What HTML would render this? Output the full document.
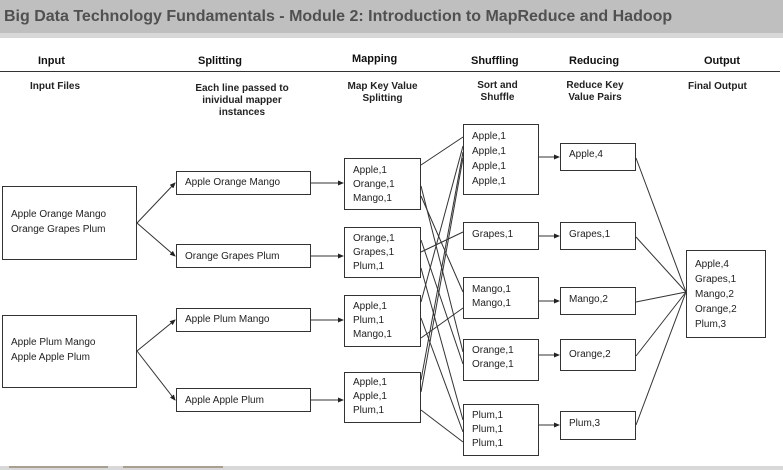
<!DOCTYPE html>
<html><head><meta charset="utf-8"><style>
body{margin:0;width:783px;height:470px;overflow:hidden;background:#fff;font-family:"Liberation Sans",sans-serif;position:relative}
.hb{position:absolute;left:0;top:0;width:783px;height:33px;background:#bfbfbf}
.hb2{position:absolute;left:0;top:33px;width:783px;height:5px;background:#d8d8d8}
.title{position:absolute;left:4px;top:8px;font-size:16px;font-weight:bold;color:#505050;white-space:nowrap}
.h{position:absolute;font-size:11px;font-weight:bold;color:#111;text-align:center;white-space:nowrap}
.s{position:absolute;font-size:10px;font-weight:bold;color:#222;text-align:center;line-height:12px}
.b{position:absolute;border:1px solid #333;box-sizing:border-box;font-size:10px;color:#222;line-height:14px;padding-left:8px;white-space:nowrap}
</style></head><body>
<div class="hb"></div><div class="hb2"></div>
<div class="title">Big Data Technology Fundamentals - Module 2: Introduction to MapReduce and Hadoop</div>
<div class="h" style="left:38px;top:55px">Input</div>
<div class="h" style="left:198px;top:55px">Splitting</div>
<div class="h" style="left:352px;top:53px">Mapping</div>
<div class="h" style="left:471px;top:55px">Shuffling</div>
<div class="h" style="left:569px;top:55px">Reducing</div>
<div class="h" style="left:704px;top:55px">Output</div>
<div style="position:absolute;left:0;top:71px;width:780px;height:1px;background:#333"></div>
<div class="s" style="left:30px;top:81px">Input Files</div>
<div class="s" style="left:172px;top:83px;width:140px">Each line passed to<br>inividual mapper<br>instances</div>
<div class="s" style="left:330px;top:81px;width:105px">Map Key Value<br>Splitting</div>
<div class="s" style="left:460px;top:80px;width:75px">Sort and<br>Shuffle</div>
<div class="s" style="left:555px;top:80px;width:80px">Reduce Key<br>Value Pairs</div>
<div class="s" style="left:688px;top:81px">Final Output</div>

<svg style="position:absolute;left:0;top:0" width="783" height="470">
<defs><marker id="a" markerWidth="6" markerHeight="6" refX="5" refY="3" orient="auto"><path d="M0,0.5L6,3L0,5.5z" fill="#222"/></marker></defs>
<g stroke="#333" stroke-width="1" fill="none">
<path d="M137,223L175,183" marker-end="url(#a)"/><path d="M137,223L175,256" marker-end="url(#a)"/>
<path d="M137,351L175,320" marker-end="url(#a)"/><path d="M137,351L175,400" marker-end="url(#a)"/>
<path d="M311,183L343,183" marker-end="url(#a)"/><path d="M311,256L343,256" marker-end="url(#a)"/>
<path d="M311,320L343,320" marker-end="url(#a)"/><path d="M311,400L343,400" marker-end="url(#a)"/>
<path d="M421,165L463,137"/><path d="M421,186L463,352"/><path d="M421,196L463,292"/>
<path d="M421,240L463,364"/><path d="M421,252L463,232"/><path d="M421,268L463,420"/>
<path d="M421,302L463,146"/><path d="M421,318L463,432"/><path d="M421,338L463,308"/>
<path d="M421,380L463,152"/><path d="M421,392L463,158"/><path d="M421,410L463,442"/>
<path d="M539,157L559,157" marker-end="url(#a)"/><path d="M539,236L559,236" marker-end="url(#a)"/>
<path d="M539,301L559,301" marker-end="url(#a)"/><path d="M539,355L559,355" marker-end="url(#a)"/>
<path d="M539,425L559,425" marker-end="url(#a)"/>
<path d="M636,158L686,292"/><path d="M636,237L686,292"/><path d="M636,302L686,292"/><path d="M636,356L686,292"/><path d="M636,425L686,292"/>
</g></svg>

<div class="b" style="left:2px;top:186px;width:135px;height:74px;padding-top:20px;line-height:15px">Apple Orange Mango<br>Orange Grapes Plum</div>
<div class="b" style="left:2px;top:315px;width:135px;height:73px;padding-top:19px;line-height:15px">Apple Plum Mango<br>Apple Apple Plum</div>
<div class="b" style="left:176px;top:171px;width:135px;height:24px;padding-top:4px">Apple Orange Mango</div>
<div class="b" style="left:176px;top:244px;width:135px;height:24px;padding-top:5px">Orange Grapes Plum</div>
<div class="b" style="left:176px;top:308px;width:135px;height:24px;padding-top:4px">Apple Plum Mango</div>
<div class="b" style="left:176px;top:388px;width:135px;height:24px;padding-top:5px">Apple Apple Plum</div>
<div class="b" style="left:344px;top:158px;width:77px;height:52px;padding-top:5px">Apple,1<br>Orange,1<br>Mango,1</div>
<div class="b" style="left:344px;top:227px;width:77px;height:51px;padding-top:4px">Orange,1<br>Grapes,1<br>Plum,1</div>
<div class="b" style="left:344px;top:295px;width:77px;height:52px;padding-top:4px">Apple,1<br>Plum,1<br>Mango,1</div>
<div class="b" style="left:344px;top:372px;width:77px;height:51px;padding-top:3px">Apple,1<br>Apple,1<br>Plum,1</div>
<div class="b" style="left:463px;top:124px;width:76px;height:71px;padding-top:4px;line-height:15px">Apple,1<br>Apple,1<br>Apple,1<br>Apple,1</div>
<div class="b" style="left:463px;top:222px;width:76px;height:28px;padding-top:5px">Grapes,1</div>
<div class="b" style="left:463px;top:277px;width:76px;height:42px;padding-top:5px">Mango,1<br>Mango,1</div>
<div class="b" style="left:463px;top:339px;width:76px;height:42px;padding-top:4px">Orange,1<br>Orange,1</div>
<div class="b" style="left:463px;top:404px;width:76px;height:52px;padding-top:4px">Plum,1<br>Plum,1<br>Plum,1</div>
<div class="b" style="left:560px;top:143px;width:76px;height:28px;padding-top:4px">Apple,4</div>
<div class="b" style="left:560px;top:222px;width:76px;height:28px;padding-top:5px">Grapes,1</div>
<div class="b" style="left:560px;top:287px;width:76px;height:28px;padding-top:5px">Mango,2</div>
<div class="b" style="left:560px;top:339px;width:76px;height:32px;padding-top:8px">Orange,2</div>
<div class="b" style="left:560px;top:411px;width:76px;height:29px;padding-top:5px">Plum,3</div>
<div class="b" style="left:686px;top:250px;width:80px;height:88px;padding-top:6px;line-height:15px">Apple,4<br>Grapes,1<br>Mango,2<br>Orange,2<br>Plum,3</div>

<div style="position:absolute;left:0;top:466px;width:783px;height:4px;background:#d8d8d8"></div>
<div style="position:absolute;left:9px;top:466px;width:99px;height:2px;background:#a89f90"></div>
<div style="position:absolute;left:123px;top:466px;width:100px;height:2px;background:#a89f90"></div>
</body></html>
